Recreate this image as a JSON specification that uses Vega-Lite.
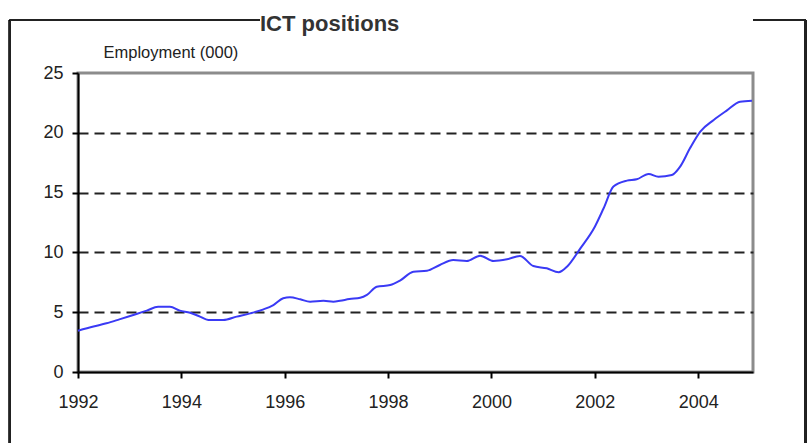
{
  "$schema": "https://vega.github.io/schema/vega-lite/v6.json",
  "autosize": "none",
  "width": 675,
  "height": 299,
  "padding": {"left": 78, "top": 73, "right": 54, "bottom": 71},
  "background": "white",
  "config": {
    "font": "Liberation Sans",
    "view": {"stroke": "#8c8c8c", "strokeWidth": 3}
  },
  "title": {
    "text": "ICT positions",
    "anchor": "start",
    "frame": "group",
    "dx": 182,
    "dy": 21,
    "fontSize": 22,
    "fontWeight": "bold",
    "color": "#333333",
    "font": "Liberation Sans"
  },
  "data": {
    "values": [
      {"year": 1992.0, "emp": 3.45},
      {"year": 1992.3, "emp": 3.8},
      {"year": 1992.55, "emp": 4.07},
      {"year": 1992.8, "emp": 4.4},
      {"year": 1993.07, "emp": 4.77},
      {"year": 1993.33, "emp": 5.13},
      {"year": 1993.55, "emp": 5.46},
      {"year": 1993.78, "emp": 5.46},
      {"year": 1993.97, "emp": 5.13},
      {"year": 1994.17, "emp": 4.96},
      {"year": 1994.36, "emp": 4.63},
      {"year": 1994.52, "emp": 4.35},
      {"year": 1994.81, "emp": 4.35},
      {"year": 1995.07, "emp": 4.63},
      {"year": 1995.33, "emp": 4.9},
      {"year": 1995.59, "emp": 5.24},
      {"year": 1995.78, "emp": 5.6},
      {"year": 1995.97, "emp": 6.16},
      {"year": 1996.1, "emp": 6.24},
      {"year": 1996.3, "emp": 6.08},
      {"year": 1996.49, "emp": 5.88},
      {"year": 1996.75, "emp": 5.96},
      {"year": 1996.94, "emp": 5.88},
      {"year": 1997.07, "emp": 5.95},
      {"year": 1997.25, "emp": 6.1},
      {"year": 1997.46, "emp": 6.2},
      {"year": 1997.59, "emp": 6.44},
      {"year": 1997.78, "emp": 7.13},
      {"year": 1998.04, "emp": 7.27},
      {"year": 1998.23, "emp": 7.64},
      {"year": 1998.49, "emp": 8.39},
      {"year": 1998.75, "emp": 8.47},
      {"year": 1999.0, "emp": 8.95},
      {"year": 1999.26, "emp": 9.36},
      {"year": 1999.52, "emp": 9.28},
      {"year": 1999.78, "emp": 9.73},
      {"year": 2000.04, "emp": 9.28},
      {"year": 2000.3, "emp": 9.42},
      {"year": 2000.55, "emp": 9.7},
      {"year": 2000.81, "emp": 8.86},
      {"year": 2001.07, "emp": 8.67},
      {"year": 2001.3, "emp": 8.34},
      {"year": 2001.46, "emp": 8.8},
      {"year": 2001.72, "emp": 10.34},
      {"year": 2002.0, "emp": 12.15},
      {"year": 2002.17, "emp": 13.69},
      {"year": 2002.36, "emp": 15.5},
      {"year": 2002.62, "emp": 16.0},
      {"year": 2002.81, "emp": 16.11},
      {"year": 2003.04, "emp": 16.56},
      {"year": 2003.23, "emp": 16.33},
      {"year": 2003.49, "emp": 16.47},
      {"year": 2003.65, "emp": 17.17},
      {"year": 2003.84, "emp": 18.7},
      {"year": 2004.04, "emp": 20.1},
      {"year": 2004.3, "emp": 21.07},
      {"year": 2004.55, "emp": 21.85},
      {"year": 2004.81, "emp": 22.6},
      {"year": 2005.04, "emp": 22.68}
    ]
  },
  "layer": [
    {
      "mark": {"type": "line", "color": "#3a3af5", "strokeWidth": 2, "interpolate": "monotone"},
      "encoding": {
        "x": {
          "field": "year",
          "type": "quantitative",
          "scale": {"domain": [1992, 2005.06], "nice": false, "zero": false},
          "axis": {
            "title": null,
            "values": [1992, 1994, 1996, 1998, 2000, 2002, 2004],
            "format": "d",
            "labelFlush": false,
            "grid": false,
            "domainColor": "#000000",
            "domainWidth": 2,
            "tickColor": "#000000",
            "tickWidth": 2,
            "tickSize": 6,
            "labelPadding": 15,
            "labelFontSize": 18,
            "labelColor": "#222222",
            "labelFont": "Liberation Sans"
          }
        },
        "y": {
          "field": "emp",
          "type": "quantitative",
          "scale": {"domain": [0, 25], "nice": false},
          "axis": {
            "title": "Employment (000)",
            "titleAngle": 0,
            "titleAlign": "left",
            "titleBaseline": "alphabetic",
            "titleX": 25,
            "titleY": -16,
            "titleFontSize": 16.5,
            "titleFontWeight": "normal",
            "titleColor": "#222222",
            "titleFont": "Liberation Sans",
            "values": [0, 5, 10, 15, 20, 25],
            "grid": true,
            "gridColor": "#222222",
            "gridDash": [10, 6],
            "gridWidth": 2,
            "gridOpacity": {"condition": {"test": "datum.value === 0 || datum.value === 25", "value": 0}, "value": 1},
            "domainColor": "#000000",
            "domainWidth": 2,
            "tickColor": "#000000",
            "tickWidth": 2,
            "tickSize": 6,
            "labelPadding": 9,
            "labelFontSize": 18,
            "labelColor": "#222222",
            "labelFont": "Liberation Sans"
          }
        }
      }
    },
    {
      "mark": {"type": "rule", "color": "#222222", "strokeWidth": 2},
      "encoding": {
        "x": {"datum": 1990.684, "type": "quantitative"},
        "y": {"datum": 29.43, "type": "quantitative"},
        "y2": {"datum": -8}
      }
    },
    {
      "mark": {"type": "rule", "color": "#222222", "strokeWidth": 2},
      "encoding": {
        "x": {"datum": 1990.684, "type": "quantitative"},
        "x2": {"datum": 1995.52},
        "y": {"datum": 29.43, "type": "quantitative"}
      }
    },
    {
      "mark": {"type": "rule", "color": "#222222", "strokeWidth": 2},
      "encoding": {
        "x": {"datum": 2005.06, "type": "quantitative"},
        "x2": {"datum": 2006.07},
        "y": {"datum": 29.43, "type": "quantitative"}
      }
    },
    {
      "mark": {"type": "rule", "color": "#222222", "strokeWidth": 2},
      "encoding": {
        "x": {"datum": 2006.07, "type": "quantitative"},
        "y": {"datum": 29.43, "type": "quantitative"},
        "y2": {"datum": -8}
      }
    }
  ]
}
